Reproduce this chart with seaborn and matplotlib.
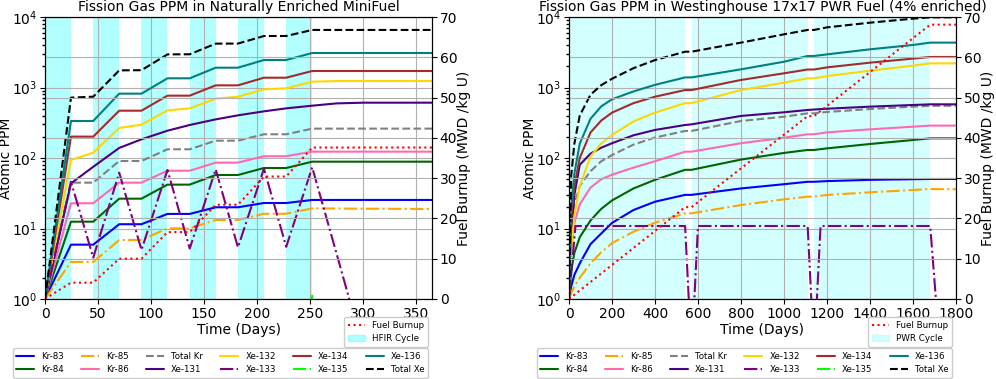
import matplotlib
matplotlib.use("Agg")
import matplotlib.pyplot as plt
import matplotlib.patches as mpatches
import seaborn as sns

# ---------------- HFIR MiniFuel (left panel) ----------------
hfir_days = [0, 24.5, 45.5, 70, 91, 115.5, 136.5, 161, 182, 206.5, 227.5, 252, 275, 300, 365]
hfir_kr83 = [1, 5.9, 5.9, 11.5, 11.5, 16.1, 16.1, 20.0, 20.0, 23.0, 23.0, 25.4, 25.4, 25.4, 25.4]
hfir_kr84 = [1, 12.5, 12.5, 26.5, 26.5, 41.9, 41.9, 57.4, 57.4, 72.1, 72.1, 88.7, 88.7, 88.7, 88.7]
hfir_kr85 = [1, 3.35, 3.35, 6.87, 6.87, 10.05, 10.05, 13.2, 13.2, 16.2, 16.2, 19.3, 19.2, 19.1, 18.9]
hfir_kr86 = [1, 22.8, 22.8, 44.7, 44.7, 66.0, 66.0, 86.0, 86.0, 106, 106, 123, 123, 123, 123]
hfir_total_kr = [1, 44.7, 44.7, 90.6, 90.6, 133, 133, 176, 176, 217, 217, 261, 261, 261, 261]
hfir_xe131 = [1, 43.7, 75, 139, 184, 244, 294, 353, 403, 459, 506, 552, 595, 609, 609]
hfir_xe132 = [1, 93.7, 119, 267, 297, 474, 506, 695, 741, 942, 973, 1210, 1235, 1235, 1235]
hfir_xe133 = [1, 46, 3.86, 62, 4.95, 67.6, 5.2, 69, 5.4, 70.6, 5.5, 73.7, 4.4, 0.2, 1e-4]
hfir_xe134 = [1, 201, 201, 469, 469, 766, 766, 1073, 1073, 1377, 1377, 1714, 1714, 1714, 1714]
hfir_xe136 = [1, 335, 335, 818, 818, 1350, 1350, 1910, 1910, 2455, 2455, 3085, 3085, 3085, 3085]
hfir_total_xe = [1, 718, 741, 1750, 1760, 2950, 2960, 4190, 4200, 5370, 5380, 6550, 6550, 6550, 6550]
hfir_burnup = [0, 4.06, 4.06, 10.0, 10.0, 16.6, 16.6, 23.4, 23.4, 30.4, 30.4, 37.6, 37.6, 37.6, 37.6]

hfir_xe135_days = [0, 24.5, 45.5, 70, 91, 115.5, 136.5, 161, 182, 206.5, 227.5, 251, 252, 253, 365]
hfir_xe135 = [0.01, 0.9, 0.01, 0.9, 0.01, 0.9, 0.01, 0.9, 0.01, 0.9, 0.01, 0.9, 1.18, 0.01, 0.01]

hfir_cycle_start = [0, 45.5, 91, 136.5, 182, 227.5]
hfir_cycle_end = [24.5, 70, 115.5, 161, 206.5, 252]

# ---------------- Westinghouse PWR (right panel) ----------------
pwr_days = [0, 10, 25, 50, 100, 150, 200, 300, 400, 540, 570, 800, 1000, 1110, 1140, 1200, 1400, 1600, 1680, 1800]
pwr_kr83 = [1, 1.5, 2.2, 3.2, 6.0, 8.5, 12.0, 18.3, 24.0, 30.0, 30.0, 37.0, 42.5, 46.0, 46.0, 47.0, 49.0, 50.0, 50.4, 50.4]
pwr_kr84 = [1, 2.5, 4.5, 7.5, 13.0, 19.0, 25.0, 37.0, 49.0, 68.0, 68.0, 95.0, 118, 130, 130, 137, 158, 180, 190, 190]
pwr_kr85 = [1, 1.2, 1.5, 2.0, 3.2, 4.6, 6.2, 9.0, 12.1, 16.4, 16.4, 21.5, 25.9, 28.3, 28.3, 29.9, 32.6, 35.2, 36.3, 36.0]
pwr_kr86 = [1, 5, 12, 22, 38, 50, 58, 73, 90, 123, 123, 162, 194, 217, 217, 231, 255, 278, 288, 288]
pwr_total_kr = [1, 10, 22, 40, 65, 90, 110, 155, 195, 242, 242, 335, 385, 430, 430, 450, 495, 535, 550, 550]
pwr_xe131 = [1, 8, 30, 80, 115, 140, 162, 210, 250, 294, 300, 395, 445, 480, 487, 500, 535, 565, 577, 577]
pwr_xe132 = [1, 5, 15, 40, 105, 160, 212, 330, 440, 600, 600, 920, 1170, 1350, 1350, 1450, 1730, 2040, 2200, 2200]
pwr_xe134 = [1, 14, 40, 100, 230, 340, 440, 600, 740, 920, 920, 1280, 1590, 1800, 1800, 1930, 2250, 2570, 2710, 2710]
pwr_xe136 = [1, 20, 60, 160, 360, 540, 680, 880, 1090, 1390, 1390, 1810, 2320, 2800, 2800, 2950, 3480, 4010, 4330, 4330]
pwr_total_xe = [1, 55, 160, 400, 790, 1080, 1330, 1880, 2450, 3220, 3220, 4330, 5680, 6550, 6550, 7130, 8310, 9470, 9890, 9890]

pwr_short_days = [0, 30, 540, 570, 600, 1110, 1140, 1170, 1680, 1720, 1800]
pwr_xe133 = [1, 10.85, 10.85, 0.16, 10.85, 10.85, 0.16, 10.85, 10.85, 0.3, 0.01]
pwr_xe135 = [0.01, 0.6, 0.6, 0.01, 0.6, 0.6, 0.01, 0.6, 0.6, 0.01, 0.01]

pwr_burn_days = [0, 540, 570, 1110, 1140, 1680, 1800]
pwr_burnup = [0, 22.8, 22.8, 45.4, 45.4, 68.1, 68.1]

pwr_cycle_start = [0, 570, 1140]
pwr_cycle_end = [540, 1110, 1680]

labels = ["Kr-83", "Kr-84", "Kr-85", "Kr-86", "Total Kr", "Xe-131",
          "Xe-132", "Xe-133", "Xe-134", "Xe-135", "Xe-136", "Total Xe"]
colors = ["blue", "darkgreen", "orange", "hotpink", "gray", "indigo",
          "gold", "purple", "brown", "lime", "teal", "black"]
styles = ["-", "-", "-.", "-", "--", "-", "-", "-.", "-", "-.", "-", "--"]


def draw_panel(ax, curves, burn_x, burn_y, starts, ends, cycle_name, alpha,
               title, xmax, xticks):
    for s, e in zip(starts, ends):
        ax.axvspan(s, e, color="cyan", alpha=alpha, lw=0, zorder=0.5)

    for (x, y), lab, c, ls in zip(curves, labels, colors, styles):
        sns.lineplot(x=x, y=y, ax=ax, color=c, linestyle=ls, lw=1.5,
                     label=lab, legend=False, errorbar=None)

    ax.set_yscale("log")
    ax.set_ylim(1, 1e4)
    ax.set_xlim(0, xmax)
    ax.set_xticks(xticks)
    ax.grid(True, color="#b0b0b0", lw=0.8)
    ax.set_xlabel("Time (Days)", labelpad=2)
    ax.set_ylabel("Atomic PPM")
    ax.yaxis.set_label_coords(-0.083, 0.5)
    ax.set_title(title, pad=4)

    ax2 = ax.twinx()
    sns.lineplot(x=burn_x, y=burn_y, ax=ax2, color="red", linestyle=":",
                 lw=1.5, legend=False, errorbar=None)
    ax2.set_ylim(0, 70)
    ax2.grid(True, axis="y", color="#b0b0b0", lw=0.8)
    ax2.set_ylabel("Fuel Burnup (MWD /kg U)")
    ax2.yaxis.set_label_coords(1.065, 0.5)

    small = [plt.Line2D([], [], color="red", linestyle=":", lw=1.5),
             mpatches.Patch(color="cyan", alpha=alpha)]
    ax2.legend(small, ["Fuel Burnup", cycle_name], loc="upper right",
               bbox_to_anchor=(1, -0.05), fontsize=6.3, framealpha=1)

    handles = ax.get_lines()[:len(labels)]
    ax.legend(handles, labels, loc="upper right", bbox_to_anchor=(1, -0.16),
              ncol=6, fontsize=6.2, handlelength=2.1, framealpha=1)


def main():
    sns.set_theme(style="ticks", rc={
        "axes.edgecolor": "black",
        "axes.linewidth": 0.8,
        "xtick.color": "black",
        "ytick.color": "black",
        "text.color": "black",
        "axes.labelcolor": "black",
    })
    plt.rcParams.update({
        "font.family": "DejaVu Sans",
        "font.size": 10,
        "axes.titlesize": 10,
        "axes.labelsize": 10,
        "xtick.labelsize": 10,
        "ytick.labelsize": 10,
        "xtick.major.size": 3.5,
        "ytick.major.size": 3.5,
        "ytick.minor.size": 2,
        "xtick.major.width": 0.8,
        "ytick.major.width": 0.8,
        "xtick.major.pad": 2,
        "ytick.major.pad": 2,
    })

    fig = plt.figure(figsize=(9.96, 3.79), dpi=100)
    ax_l = fig.add_axes([45 / 996, 80 / 379, 387 / 996, 282 / 379])
    ax_r = fig.add_axes([569 / 996, 80 / 379, 387 / 996, 282 / 379])

    hfir_curves = [(hfir_days, hfir_kr83), (hfir_days, hfir_kr84), (hfir_days, hfir_kr85),
                   (hfir_days, hfir_kr86), (hfir_days, hfir_total_kr), (hfir_days, hfir_xe131),
                   (hfir_days, hfir_xe132), (hfir_days, hfir_xe133), (hfir_days, hfir_xe134),
                   (hfir_xe135_days, hfir_xe135), (hfir_days, hfir_xe136), (hfir_days, hfir_total_xe)]
    draw_panel(ax_l, hfir_curves, hfir_days, hfir_burnup, hfir_cycle_start, hfir_cycle_end,
               "HFIR Cycle", 0.3, "Fission Gas PPM in Naturally Enriched MiniFuel",
               365, range(0, 351, 50))

    pwr_curves = [(pwr_days, pwr_kr83), (pwr_days, pwr_kr84), (pwr_days, pwr_kr85),
                  (pwr_days, pwr_kr86), (pwr_days, pwr_total_kr), (pwr_days, pwr_xe131),
                  (pwr_days, pwr_xe132), (pwr_short_days, pwr_xe133), (pwr_days, pwr_xe134),
                  (pwr_short_days, pwr_xe135), (pwr_days, pwr_xe136), (pwr_days, pwr_total_xe)]
    draw_panel(ax_r, pwr_curves, pwr_burn_days, pwr_burnup, pwr_cycle_start, pwr_cycle_end,
               "PWR Cycle", 0.17,
               "Fission Gas PPM in Westinghouse 17x17 PWR Fuel (4% enriched)",
               1800, range(0, 1801, 200))

    fig.savefig("out.png", dpi=100, facecolor="white")


if __name__ == "__main__":
    main()
